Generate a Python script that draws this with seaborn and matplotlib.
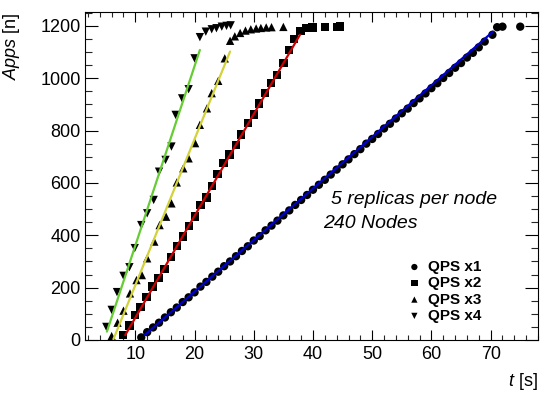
import matplotlib
matplotlib.use("Agg")
import matplotlib.pyplot as plt
import seaborn as sns
import numpy as np
import pandas as pd
from matplotlib.ticker import MultipleLocator

# ---------------- data ----------------
t_x1 = [11, 12, 13, 14, 15, 16, 17, 18, 19, 20, 21, 22, 23, 24, 25, 26, 27, 28, 29, 30,
        31, 32, 33, 34, 35, 36, 37, 38, 39, 40, 41, 42, 43, 44, 45, 46, 47, 48, 49, 50,
        51, 52, 53, 54, 55, 56, 57, 58, 59, 60, 61, 62, 63, 64, 65, 66, 67, 68, 69, 70.3,
        71.1, 72.0, 75.0]
n_x1 = [10, 30, 48, 66, 86, 106, 124, 145, 163, 182, 204, 222, 242, 261, 282, 300, 320, 340, 358, 380,
        397, 419, 437, 456, 476, 495, 516, 535, 554, 574, 593, 612, 632, 651, 671, 690, 710, 729, 750, 768,
        787, 808, 826, 846, 866, 884, 905, 923, 942, 962, 981, 1001, 1020, 1040, 1058, 1079, 1097, 1118, 1140, 1166,
        1195, 1197, 1197]

t_x2 = [7.9, 9.0, 9.9, 10.9, 11.9, 12.9, 13.9, 14.9, 16.0, 17.0, 18.0, 19.1, 20.1, 21.0, 22.0, 22.9,
        23.9, 24.9, 25.9, 27.0, 27.9, 29.0, 30.0, 30.9, 31.9, 32.9, 33.9, 35.0, 35.9, 36.8,
        37.9, 38.9, 39.9, 42.0, 44.0, 44.6]
n_x2 = [20, 55, 95, 127, 165, 204, 238, 272, 316, 358, 396, 436, 472, 515, 545, 588,
        634, 676, 708, 745, 785, 828, 862, 904, 943, 981, 1012, 1057, 1108, 1150,
        1181, 1191, 1194, 1195, 1195, 1197]

t_x3 = [6.0, 7.0, 8.0, 9.1, 10.2, 11.1, 12.0, 13.2, 14.1, 15.2, 16.1, 17.0, 18.1, 19.0, 20.1, 20.9,
        22.1, 22.9, 24.0, 25.1, 26.0, 26.8, 27.7, 28.6, 29.5, 30.4, 31.2, 32.1, 33.0, 35.0]
n_x3 = [15, 66, 112, 178, 229, 248, 312, 376, 439, 471, 522, 602, 656, 694, 752, 822,
        885, 943, 990, 1076, 1143, 1160, 1173, 1182, 1187, 1190, 1192, 1194, 1195, 1196]

t_x4 = [5.1, 6.0, 6.9, 8.0, 9.0, 9.9, 11.0, 12.0, 13.1, 14.0, 15.1, 16.1, 16.8, 17.9, 19.0, 20.0,
        20.9, 21.9, 22.9, 23.7, 24.6, 25.4, 26.1]
n_x4 = [50, 115, 183, 245, 278, 351, 439, 484, 535, 643, 688, 739, 860, 923, 958, 1076,
        1157, 1178, 1187, 1191, 1197, 1200, 1202]

# fitted lines (end points)
fit_t_x1 = [11.6, 70.4]
fit_n_x1 = [19, 1178]
fit_t_x2 = [8.3, 37.8]
fit_n_x2 = [19, 1166]
fit_t_x3 = [6.3, 26.0]
fit_n_x3 = [3, 1102]
fit_t_x4 = [5.2, 20.9]
fit_n_x4 = [32, 1108]

labels = ["QPS x1", "QPS x2", "QPS x3", "QPS x4"]
markers = ["o", "s", "^", "v"]
line_colors = ["#0000cc", "#cc0000", "#d2d23a", "#66cc33"]

# ---------------- style ----------------
sns.set_theme(style="ticks")
plt.rcParams["font.family"] = ["Liberation Sans", "DejaVu Sans"]
plt.rcParams["mathtext.fontset"] = "custom"
plt.rcParams["mathtext.rm"] = "Liberation Sans"
plt.rcParams["mathtext.it"] = "Liberation Sans:italic"
plt.rcParams["text.color"] = "black"
plt.rcParams["axes.labelcolor"] = "black"

fig = plt.figure(figsize=(5.44, 3.96), dpi=100)
ax = fig.add_axes([85 / 544, 56 / 396, 453 / 544, 328 / 396])

series = [(t_x1, n_x1), (t_x2, n_x2), (t_x3, n_x3), (t_x4, n_x4)]
fits = [(fit_t_x1, fit_n_x1), (fit_t_x2, fit_n_x2), (fit_t_x3, fit_n_x3), (fit_t_x4, fit_n_x4)]

for (tt, nn), lab, mk in zip(series, labels, markers):
    df = pd.DataFrame({"t": tt, "n": nn})
    sns.scatterplot(data=df, x="t", y="n", marker=mk, color="black", s=36,
                    edgecolor="none", linewidth=0, label=lab, ax=ax, zorder=2)

for (ft, fn), c in zip(fits, line_colors):
    dfl = pd.DataFrame({"t": ft, "n": fn})
    sns.lineplot(data=dfl, x="t", y="n", color=c, linewidth=1.6, ax=ax, zorder=3)

ax.set_xlim(1.5, 78)
ax.set_ylim(0, 1253)

ax.xaxis.set_major_locator(MultipleLocator(10))
ax.xaxis.set_minor_locator(MultipleLocator(2))
ax.yaxis.set_major_locator(MultipleLocator(200))
ax.yaxis.set_minor_locator(MultipleLocator(50))

ax.tick_params(axis="x", which="major", direction="in", length=7, width=0.8,
               top=True, bottom=True, labelsize=13, pad=4, colors="black")
ax.tick_params(axis="x", which="minor", direction="in", length=3.5, width=0.8,
               top=True, bottom=True)
ax.tick_params(axis="y", which="major", direction="in", length=9.5, width=0.8,
               left=True, right=True, labelsize=13, pad=3, colors="black")
ax.tick_params(axis="y", which="minor", direction="in", length=5, width=0.8,
               left=True, right=True)
for sp in ax.spines.values():
    sp.set_visible(True)
    sp.set_linewidth(0.8)
    sp.set_color("black")

ax.set_xlabel(r"$\mathit{t}$ [s]", fontsize=13, loc="right")
ax.set_ylabel(r"$\mathit{Apps}$ [n]", fontsize=13, loc="top")
ax.xaxis.set_label_coords(1.0, -0.095)
ax.yaxis.set_label_coords(-0.14, 1.0)

ax.text(0.909, 0.427, "5 replicas per node", transform=ax.transAxes,
        fontsize=14, style="italic", ha="right", va="center")
ax.text(0.525, 0.355, "240 Nodes", transform=ax.transAxes,
        fontsize=14, style="italic", ha="left", va="center")

leg = ax.legend(loc="center left", bbox_to_anchor=(0.69, 0.148), frameon=False,
                prop={"weight": "bold", "size": 11}, handletextpad=0.3,
                labelspacing=0.15, markerscale=0.75, handlelength=1.2, borderpad=0)

fig.savefig("out.png", dpi=100)
